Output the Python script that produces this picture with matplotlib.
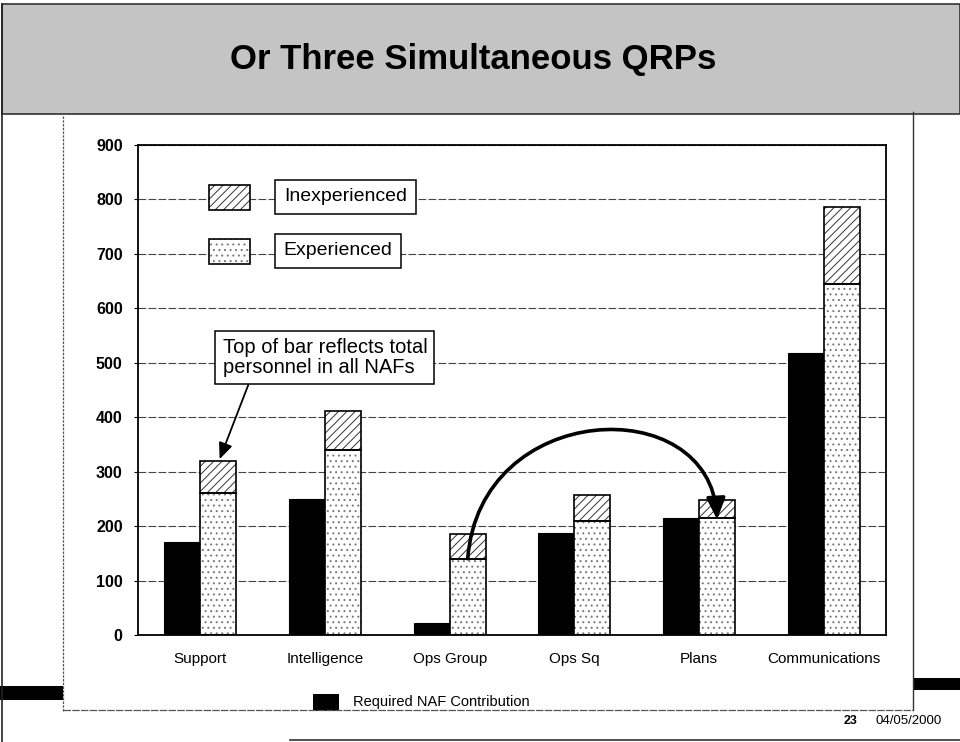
import numpy as np
import matplotlib
matplotlib.use("Agg")
import matplotlib.pyplot as plt
from matplotlib.patches import Rectangle, FancyArrowPatch
from matplotlib.path import Path
from matplotlib.lines import Line2D

plt.rcParams['font.family'] = ['Liberation Sans', 'DejaVu Sans']
plt.rcParams['hatch.linewidth'] = 0.7

# data
categories = ['Support', 'Intelligence', 'Ops Group', 'Ops Sq', 'Plans', 'Communications']
required = [170, 250, 22, 188, 215, 518]
experienced = [260, 340, 140, 210, 215, 645]
total = [320, 412, 185, 257, 248, 787]
inexperienced = [t - e for t, e in zip(total, experienced)]
y_ticks = [0, 100, 200, 300, 400, 500, 600, 700, 800, 900]

W, H = 960, 742
fig = plt.figure(figsize=(W / 100, H / 100), dpi=100)


def fx(px):
    return px / W


def fy(py):
    return 1 - py / H


# page decoration: banner, frame lines, black bars
fig.add_artist(Rectangle((fx(2), fy(114)), fx(958), 110 / H, transform=fig.transFigure,
                         facecolor='#c4c4c4', edgecolor='#333333', lw=1.2, zorder=0))
fig.add_artist(Line2D([fx(2), fx(2)], [fy(4), fy(742)], transform=fig.transFigure, color='#222222', lw=1.2))
fig.add_artist(Line2D([fx(63), fx(63)], [fy(116), fy(711)], transform=fig.transFigure,
                      color='#555555', lw=0.9, ls=(0, (2, 1))))
fig.add_artist(Line2D([fx(913), fx(913)], [fy(112), fy(710)], transform=fig.transFigure, color='#333333', lw=1.0))
fig.add_artist(Line2D([fx(63), fx(913)], [fy(710), fy(710)], transform=fig.transFigure,
                      color='#555555', lw=0.9, ls=(0, (6, 1))))
fig.add_artist(Line2D([fx(290), fx(960)], [fy(740), fy(740)], transform=fig.transFigure, color='#333333', lw=1.2))
fig.add_artist(Rectangle((fx(0), fy(700)), fx(63), 14 / H, transform=fig.transFigure,
                         facecolor='black', edgecolor='none'))
fig.add_artist(Rectangle((fx(913), fy(690)), fx(47), 12 / H, transform=fig.transFigure,
                         facecolor='black', edgecolor='none'))

fig.text(fx(473), fy(60), 'Or Three Simultaneous QRPs', ha='center', va='center',
         fontsize=25, fontweight='bold')
fig.text(fx(857), fy(721), '23', ha='right', va='center', fontsize=9, fontweight='bold')
fig.text(fx(875), fy(721), '04/05/2000', ha='left', va='center', fontsize=9.5)

# bottom legend for required contribution
fig.add_artist(Rectangle((fx(313), fy(711)), 26 / W, 17 / H, transform=fig.transFigure,
                         facecolor='black', edgecolor='none'))
fig.text(fx(353), fy(702), 'Required NAF Contribution', ha='left', va='center', fontsize=10.5)

ax = fig.add_axes([fx(138), fy(635), 748 / W, 490 / H])

x = np.arange(len(categories))
w = 0.29

ax.bar(x - w / 2, required, width=w, color='black', edgecolor='black', lw=0.8, zorder=2)
# experienced: stippled fill
ax.bar(x + w / 2, experienced, width=w, color='white', edgecolor='#777777', hatch='...', lw=0, zorder=2)
ax.bar(x + w / 2, experienced, width=w, fill=False, edgecolor='black', lw=1.2, zorder=3)
# inexperienced: diagonal hatch
ax.bar(x + w / 2, inexperienced, bottom=experienced, width=w, color='white', edgecolor='#333333',
       hatch='////', lw=0, zorder=2)
ax.bar(x + w / 2, inexperienced, bottom=experienced, width=w, fill=False, edgecolor='black', lw=1.2, zorder=3)

ax.set_xlim(-0.5, len(categories) - 0.5)
ax.set_ylim(0, 900)
ax.set_yticks(y_ticks)
ax.set_yticklabels([str(v) for v in y_ticks], fontsize=11.5, fontweight='bold')
ax.set_xticks(x)
ax.set_xticklabels(categories, fontsize=11)
ax.tick_params(axis='x', length=0, pad=12)
ax.tick_params(axis='y', length=3, pad=8, width=0.8)
for s in ax.spines.values():
    s.set_linewidth(1.3)
ax.set_axisbelow(True)
ax.yaxis.grid(True, color='#444444', lw=0.8, ls=(0, (7, 2)))

# legend patches and boxes
ax.add_patch(Rectangle((0.095, 0.867), 0.055, 0.051, transform=ax.transAxes, facecolor='white',
                       edgecolor='#333333', hatch='////', lw=0, zorder=4))
ax.add_patch(Rectangle((0.095, 0.867), 0.055, 0.051, transform=ax.transAxes, fill=False,
                       edgecolor='black', lw=1.2, zorder=5))
ax.add_patch(Rectangle((0.095, 0.757), 0.055, 0.051, transform=ax.transAxes, facecolor='white',
                       edgecolor='#777777', hatch='...', lw=0, zorder=4))
ax.add_patch(Rectangle((0.095, 0.757), 0.055, 0.051, transform=ax.transAxes, fill=False,
                       edgecolor='black', lw=1.2, zorder=5))

box = dict(boxstyle='square,pad=0.45', facecolor='white', edgecolor='black', lw=1.1)
ax.text(0.195, 0.894, 'Inexperienced', transform=ax.transAxes, ha='left', va='center',
        fontsize=14, bbox=box, zorder=6)
ax.text(0.195, 0.784, 'Experienced', transform=ax.transAxes, ha='left', va='center',
        fontsize=14, bbox=box, zorder=6)

ax.annotate('Top of bar reflects total\npersonnel in all NAFs',
            xy=(0.155, total[0] + 3), xycoords='data',
            xytext=(0.113, 0.566), textcoords='axes fraction',
            ha='left', va='center', fontsize=14.5, linespacing=1.1,
            bbox=dict(boxstyle='square,pad=0.35', facecolor='white', edgecolor='black', lw=1.1),
            arrowprops=dict(arrowstyle='-|>,head_length=0.7,head_width=0.3', color='black',
                            lw=1.3, relpos=(0.14, 0), shrinkA=0, shrinkB=0, mutation_scale=14),
            zorder=6)

# curved arrow from Ops Group to Plans
verts = [(2 + w / 2, experienced[2]), (2.24, 432), (4.09, 450), (4 + w / 2, experienced[4] - 3)]
codes = [Path.MOVETO, Path.CURVE4, Path.CURVE4, Path.CURVE4]
arc = FancyArrowPatch(path=Path(verts, codes), arrowstyle='-|>,head_length=0.8,head_width=0.35',
                      mutation_scale=16, lw=2.6, color='black', zorder=7)
ax.add_patch(arc)

fig.savefig('out.png', dpi=100)
